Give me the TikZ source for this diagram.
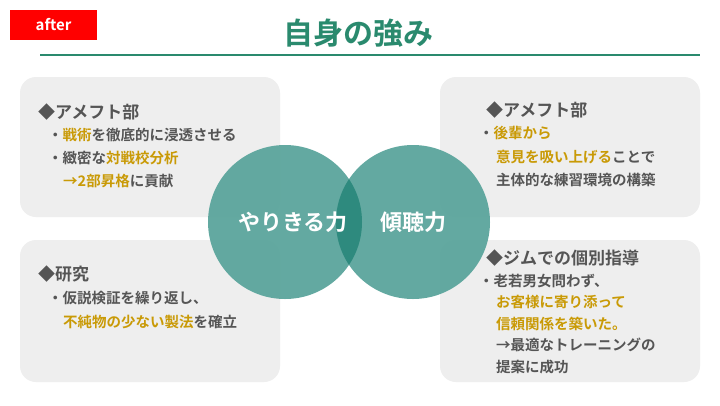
\documentclass[tikz,border=0pt]{standalone}
\usepackage{fontspec}
\setmainfont{Noto Sans CJK JP}[BoldFont={Noto Sans CJK JP Bold}]
\definecolor{gtxt}{HTML}{555555}
\definecolor{gold}{HTML}{C99A06}
\definecolor{boxg}{HTML}{EEEEEE}
\definecolor{circ}{HTML}{5BA59C}
\definecolor{circd}{HTML}{2E8A7E}
\definecolor{ttl}{HTML}{2A8A6E}
\newcommand{\au}[1]{\textcolor{gold}{#1}}
\begin{document}
\begin{tikzpicture}[x=1pt,y=-1pt,
  card/.style={fill=boxg,rounded corners=16pt},
  head/.style={anchor=west,inner sep=0,text=gtxt,font=\bfseries\fontsize{17}{19}\selectfont},
  body/.style={anchor=west,inner sep=0,text=gtxt,font=\bfseries\fontsize{14.5}{16}\selectfont},
  clab/.style={text=white,font=\bfseries\fontsize{22}{24}\selectfont}]
\useasboundingbox (0,0) rectangle (720,405);
\fill[white] (0,0) rectangle (720,405);
\node[fill=red,minimum width=87pt,minimum height=30pt,inner sep=0,text=white,font=\bfseries\fontsize{15}{17}\selectfont] (after) at (53.5,25) {after};
\node[text=ttl,font=\bfseries\fontsize{30}{32}\selectfont] (title) at (358,33) {自身の強み};
\draw[ttl,line width=1.3pt] (40,55) -- (700,55);
\fill[card] (20,77) rectangle (280,217);
\fill[card] (20,240) rectangle (280,382);
\fill[card] (440,77) rectangle (700,217);
\fill[card] (440,240) rectangle (700,382);
\fill[circ,opacity=0.95] (285,222) circle (77);
\fill[circ,opacity=0.95] (413,222) circle (77);
\begin{scope}
\clip (285,222) circle (77);
\fill[circd] (413,222) circle (77);
\end{scope}
\node[clab] (c1) at (293,222) {やりきる力};
\node[clab] (c2) at (413,222) {傾聴力};
\node[head] (h1) at (38,112) {◆アメフト部};
\node[body] (a1) at (48,135) {・\au{戦術}を徹底的に浸透させる};
\node[body] (a2) at (48,158) {・緻密な\au{対戦校分析}};
\node[body] (a3) at (63,181) {\au{→2部昇格}に貢献};
\node[head] (h2) at (38,274) {◆研究};
\node[body] (b1) at (48,298) {・仮説検証を繰り返し、};
\node[body] (b2) at (63,322) {\au{不純物の少ない製法}を確立};
\node[head] (h3) at (486,110) {◆アメフト部};
\node[body] (d1) at (479,133) {・\au{後輩から}};
\node[body] (d2) at (496,157) {\au{意見を吸い上げる}ことで};
\node[body] (d3) at (496,180) {主体的な練習環境の構築};
\node[head] (h4) at (486,258) {◆ジムでの個別指導};
\node[body] (e1) at (479,281) {・老若男女問わず、};
\node[body] (e2) at (496,302) {\au{お客様に寄り添って}};
\node[body] (e3) at (496,324) {\au{信頼関係を築いた。}};
\node[body] (e4) at (496,345) {→最適なトレーニングの};
\node[body] (e5) at (496,367) {提案に成功};
\end{tikzpicture}
\end{document}
